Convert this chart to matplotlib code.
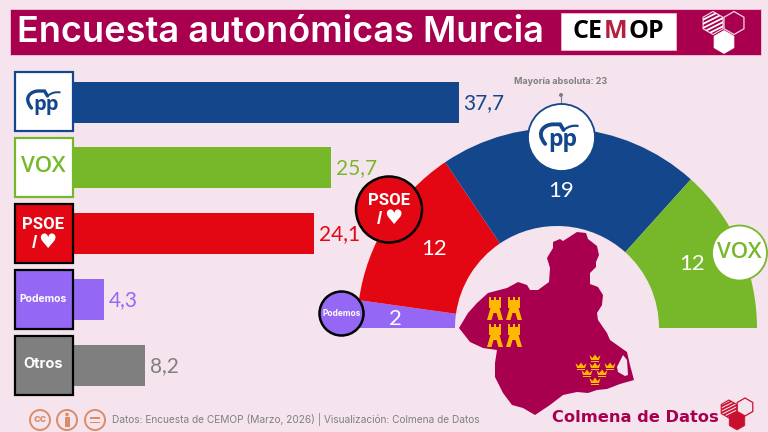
import numpy as np
import matplotlib
matplotlib.use("Agg")
import matplotlib.pyplot as plt
from matplotlib.patches import Circle, Polygon, Rectangle
from matplotlib.path import Path
from matplotlib.patches import PathPatch

W, H = 768, 432
BG = "#F5E4EE"
WINE = "#A8004F"
BLUE = "#14468C"
GREEN = "#76B82A"
RED = "#E30613"
PURPLE = "#9468F5"
GREY = "#7F7F7F"

# bars
bar_parties = ["PP", "VOX", "PSOE", "Podemos", "Otros"]
bar_values = [37.7, 25.7, 24.1, 4.3, 8.2]
bar_colors = [BLUE, GREEN, RED, PURPLE, GREY]

# hemicycle, left to right
seat_parties = ["Podemos", "PSOE", "PP", "VOX"]
seat_values = [2, 12, 19, 12]
seat_colors = [PURPLE, RED, BLUE, GREEN]

plt.rcParams["font.family"] = ["Inter", "DejaVu Sans"]
fig = plt.figure(figsize=(W / 100, H / 100), dpi=100, facecolor=BG)


def px_axes(left, top, width, height):
    ax = fig.add_axes([left / W, 1 - (top + height) / H, width / W, height / H])
    ax.axis("off")
    return ax


# bar chart, starts behind the logos
ax_bar = px_axes(58, 60, 425, 340)
ax_bar.barh(range(5), bar_values, height=0.624, color=bar_colors)
ax_bar.set_xlim(0, 40)
ax_bar.set_ylim(4.532, -0.639)
for i, v in enumerate(bar_values):
    ax_bar.annotate(f"{v:.1f}".replace(".", ","), xy=(v, i), xytext=(3.6, -0.5),
                    textcoords="offset points", va="center", ha="left",
                    fontsize=15, family=["Lato", "DejaVu Sans"], color=bar_colors[i])

# hemicycle
ax_pie = px_axes(357, 128, 400, 400)
ax_pie.pie(seat_values + [sum(seat_values)], colors=seat_colors + ["none"],
           startangle=180, counterclock=False, radius=200,
           wedgeprops=dict(width=98, linewidth=0))
ax_pie.set_xlim(-200, 200)
ax_pie.set_ylim(-200, 200)

# everything else is drawn in pixel coordinates
ax = fig.add_axes([0, 0, 1, 1], facecolor="none")
ax.set_xlim(0, W)
ax.set_ylim(H, 0)
ax.axis("off")


def hexagon(cx, cy, r):
    a = np.radians(np.arange(30, 390, 60))
    return np.column_stack([cx + r * np.cos(a), cy + r * np.sin(a)])


def hex_logo(x1, y1, x2, y2, x3, y3, r, col, edge_col):
    # hatched, outlined and filled hexagons
    hatch = Polygon(hexagon(x1, y1, r), fc="none", ec=edge_col, lw=0.8, zorder=5)
    ax.add_patch(hatch)
    for k in np.arange(-3, 4):
        ln, = ax.plot([x1 - r, x1 + r], [y1 + k * r * 0.36 + r * 0.5, y1 + k * r * 0.36 - r * 0.5],
                      color=col, lw=1.3, zorder=5, solid_capstyle="butt")
        ln.set_clip_path(hatch)
    ax.add_patch(Polygon(hexagon(x2, y2, r), fc="none", ec=edge_col, lw=0.9, zorder=5))
    ax.add_patch(Polygon(hexagon(x3, y3, r), fc=col, ec=col, lw=0.5, zorder=5))


def pp_logo(cx, cy, s, col):
    ax.text(cx + 3 * s, cy + 3 * s, "pp", color=col, fontsize=14.5 * s, fontweight="bold",
            family=["Open Sans", "DejaVu Sans"], ha="center", va="center", zorder=7)
    arc = Path([(cx - 12 * s, cy + 6 * s), (cx - 21 * s, cy - 5 * s), (cx - 12 * s, cy - 11 * s),
                (cx - 5 * s, cy - 11 * s), (cx + 1 * s, cy - 11 * s), (cx + 4 * s, cy - 6 * s)],
               [Path.MOVETO, Path.CURVE4, Path.CURVE4, Path.CURVE4, Path.LINETO, Path.LINETO])
    ax.add_patch(PathPatch(arc, fc="none", ec=col, lw=2.4 * s, capstyle="round", zorder=7))
    swoosh = Path([(cx + 4 * s, cy - 6 * s), (cx + 10 * s, cy - 11 * s), (cx + 17 * s, cy - 9.5 * s)],
                  [Path.MOVETO, Path.CURVE3, Path.CURVE3])
    ax.add_patch(PathPatch(swoosh, fc="none", ec=col, lw=1.4 * s, zorder=7))


def vox_logo(cx, cy, fs):
    ax.text(cx, cy, "VOX", color=GREEN, fontsize=fs, fontweight="semibold",
            family=["Open Sans", "DejaVu Sans"], ha="center", va="center", zorder=7)


def psoe_logo(cx, cy, s):
    ax.text(cx, cy - 8 * s, "PSOE", color="white", fontsize=11.5 * s, fontweight="bold",
            family=["Roboto", "DejaVu Sans"], ha="center", va="center", zorder=7)
    ax.text(cx - 9 * s, cy + 10 * s, "/", color="white", fontsize=13 * s, fontweight="bold",
            family=["Liberation Sans", "DejaVu Sans"], ha="center", va="center", zorder=7)
    ax.text(cx + 4 * s, cy + 9 * s, "\u2665", color="white", fontsize=14 * s,
            family=["DejaVu Sans"], ha="center", va="center", zorder=7)


def castle(cx, top):
    # small tower from the flag of Murcia
    c = "#FFB800"
    for dx in (-6, -1, 4):
        ax.add_patch(Rectangle((cx + dx, top), 2, 3, fc=c, ec="none", zorder=6))
    ax.add_patch(Rectangle((cx - 6, top + 2.5), 12, 8, fc=c, ec="none", zorder=6))
    ax.add_patch(Polygon([(cx - 4.5, top + 11), (cx + 4.5, top + 11), (cx + 8, top + 23), (cx + 3.5, top + 23),
                          (cx + 1.5, top + 16), (cx - 1.5, top + 16), (cx - 3.5, top + 23), (cx - 8, top + 23)],
                         fc=c, ec="none", zorder=6))


def crown(cx, cy):
    c = "#FFB800"
    ax.add_patch(Polygon([(cx - 5.5, cy - 3), (cx - 2.5, cy), (cx, cy - 3.5), (cx + 2.5, cy), (cx + 5.5, cy - 3),
                          (cx + 4, cy + 2), (cx - 4, cy + 2)], fc=c, ec="none", zorder=6))
    ax.add_patch(Rectangle((cx - 4, cy + 2.5), 8, 1, fc=c, ec="none", zorder=6))


# header
ax.add_patch(Rectangle((10, 9), 751, 46, fc=WINE, ec="#F0C8DA", lw=0.6, zorder=2))
ax.text(17, 33, "Encuesta autonómicas Murcia", color="white", fontsize=26, fontweight="semibold",
        family=["Inter", "DejaVu Sans"], ha="left", va="center", zorder=3)
ax.add_patch(Rectangle((561, 13), 115, 37, fc="white", ec="#F0C8DA", lw=0.5, zorder=3))
for txt, x, col in [("CE", 573, "black"), ("M", 604, "#B5203F"), ("OP", 628, "black")]:
    ax.text(x, 32, txt, color=col, fontsize=18, fontweight="bold",
            family=["Open Sans", "DejaVu Sans"], ha="left", va="center", zorder=4)
hex_logo(713, 23, 734, 23, 724, 42, 11.5, "white", "#F5D5E3")

# logo boxes next to the bars
box_tops = [71, 137, 203, 269, 335]
box_faces = ["white", "white", RED, PURPLE, GREY]
box_edges = [BLUE, GREEN, "black", "black", "black"]
ax.plot([58, 58], [70, 395], color="#E9DCE5", lw=0.5, zorder=1)
for top, fc, ec in zip(box_tops, box_faces, box_edges):
    ax.add_patch(Rectangle((14.5, top + 0.5), 58.5, 59, fc=fc, ec=ec, lw=1.6, zorder=4))
pp_logo(43.5, 102, 1.0, BLUE)
vox_logo(43.5, 167, 16)
psoe_logo(43.5, 233, 1.05)
ax.text(43.5, 299.5, "Podemos", color="white", fontsize=7.5, fontweight="bold", ha="center", va="center", zorder=7)
ax.text(43.5, 364, "Otros", color="white", fontsize=10.5, fontweight="bold", ha="center", va="center", zorder=7)

# majority marker
ax.text(561, 81.5, "Mayoría absoluta: 23", color=GREY, fontsize=6.5, fontweight="bold", ha="center", va="center", zorder=7)
ax.plot([561, 561], [95, 104], color=GREY, lw=0.8, zorder=5)
ax.add_patch(Circle((561, 95), 2, fc=GREY, ec="none", zorder=5))

# circles over the hemicycle
ax.add_patch(Circle((561.5, 137.5), 33.5, fc="white", ec=BLUE, lw=1.3, zorder=6))
pp_logo(559, 137, 1.15, BLUE)
ax.add_patch(Circle((389, 209.5), 33, fc=RED, ec="black", lw=1.8, zorder=6))
psoe_logo(389, 209, 1.05)
ax.add_patch(Circle((341.5, 313.5), 22, fc=PURPLE, ec="black", lw=1.8, zorder=6))
ax.text(341.5, 314, "Podemos", color="white", fontsize=6, fontweight="bold", ha="center", va="center", zorder=7)
ax.add_patch(Circle((739.5, 253), 27.5, fc="white", ec=GREEN, lw=1.3, zorder=6))
vox_logo(739.5, 253, 16)

# seat counts
for txt, x, y in [("19", 561, 191), ("12", 434, 249), ("12", 692, 264), ("2", 395, 319)]:
    ax.text(x, y, txt, color="white", fontsize=16, family=["Lato", "DejaVu Sans"],
            ha="center", va="center", zorder=7)

# region outline
murcia = [(577, 232), (586, 233), (588, 239), (597, 246), (599, 255), (596, 262), (596, 267), (590, 273),
          (590, 284), (598, 287), (603, 295), (602, 305), (597, 313), (598, 320), (607, 333), (610, 340),
          (627, 352), (630, 365), (634, 380), (620, 384), (607, 389), (597, 390), (588, 393), (577, 392),
          (563, 395), (550, 405), (535, 415), (523, 408), (512, 405), (503, 393), (495, 377), (495, 363),
          (497, 350), (483, 348), (470, 342), (459, 328), (468, 313), (477, 303), (488, 293), (507, 288),
          (518, 282), (527, 285), (530, 290), (538, 290), (549, 282), (550, 268), (547, 258), (553, 248),
          (553, 242), (560, 239), (563, 241)]
ax.add_patch(Polygon(murcia, fc=WINE, ec="none", zorder=5))
ax.add_patch(Polygon([(617, 367), (623, 355), (627, 360), (628, 375), (625, 376), (618, 372)], fc=BG, ec="none", zorder=5))
for cx, top in [(495, 297), (514, 297), (495, 324), (514, 324)]:
    castle(cx, top)
for cx, cy in [(595, 358), (581, 366), (595, 366), (610, 366), (587, 373), (602, 373), (595, 381)]:
    crown(cx, cy)

# footer
CC = "#D98C66"
for x in (40, 67, 95):
    ax.add_patch(Circle((x, 420), 10, fc="none", ec=CC, lw=1.4, zorder=5))
ax.text(40, 419.5, "cc", color=CC, fontsize=8, fontweight="bold", ha="center", va="center", zorder=5)
ax.add_patch(Circle((67, 414.5), 1.8, fc=CC, ec="none", zorder=5))
ax.add_patch(Rectangle((64.5, 417), 5, 10, fc=CC, ec="none", zorder=5))
ax.add_patch(Rectangle((90, 417), 10, 1.8, fc=CC, ec="none", zorder=5))
ax.add_patch(Rectangle((90, 421.5), 10, 1.8, fc=CC, ec="none", zorder=5))
ax.text(112, 419.5, "Datos: Encuesta de CEMOP (Marzo, 2026) | Visualización: Colmena de Datos", color="#808080",
        fontsize=7.3, ha="left", va="center", zorder=5)
ax.text(552, 418, "Colmena de Datos", color=WINE, fontsize=11.7, fontweight="bold",
        family=["DejaVu Sans"], ha="left", va="center", zorder=5)
hex_logo(729, 409, 745, 407, 737, 421, 9, "#C8102E", "#C8102E")

fig.savefig("out.png", dpi=100, facecolor=BG)
